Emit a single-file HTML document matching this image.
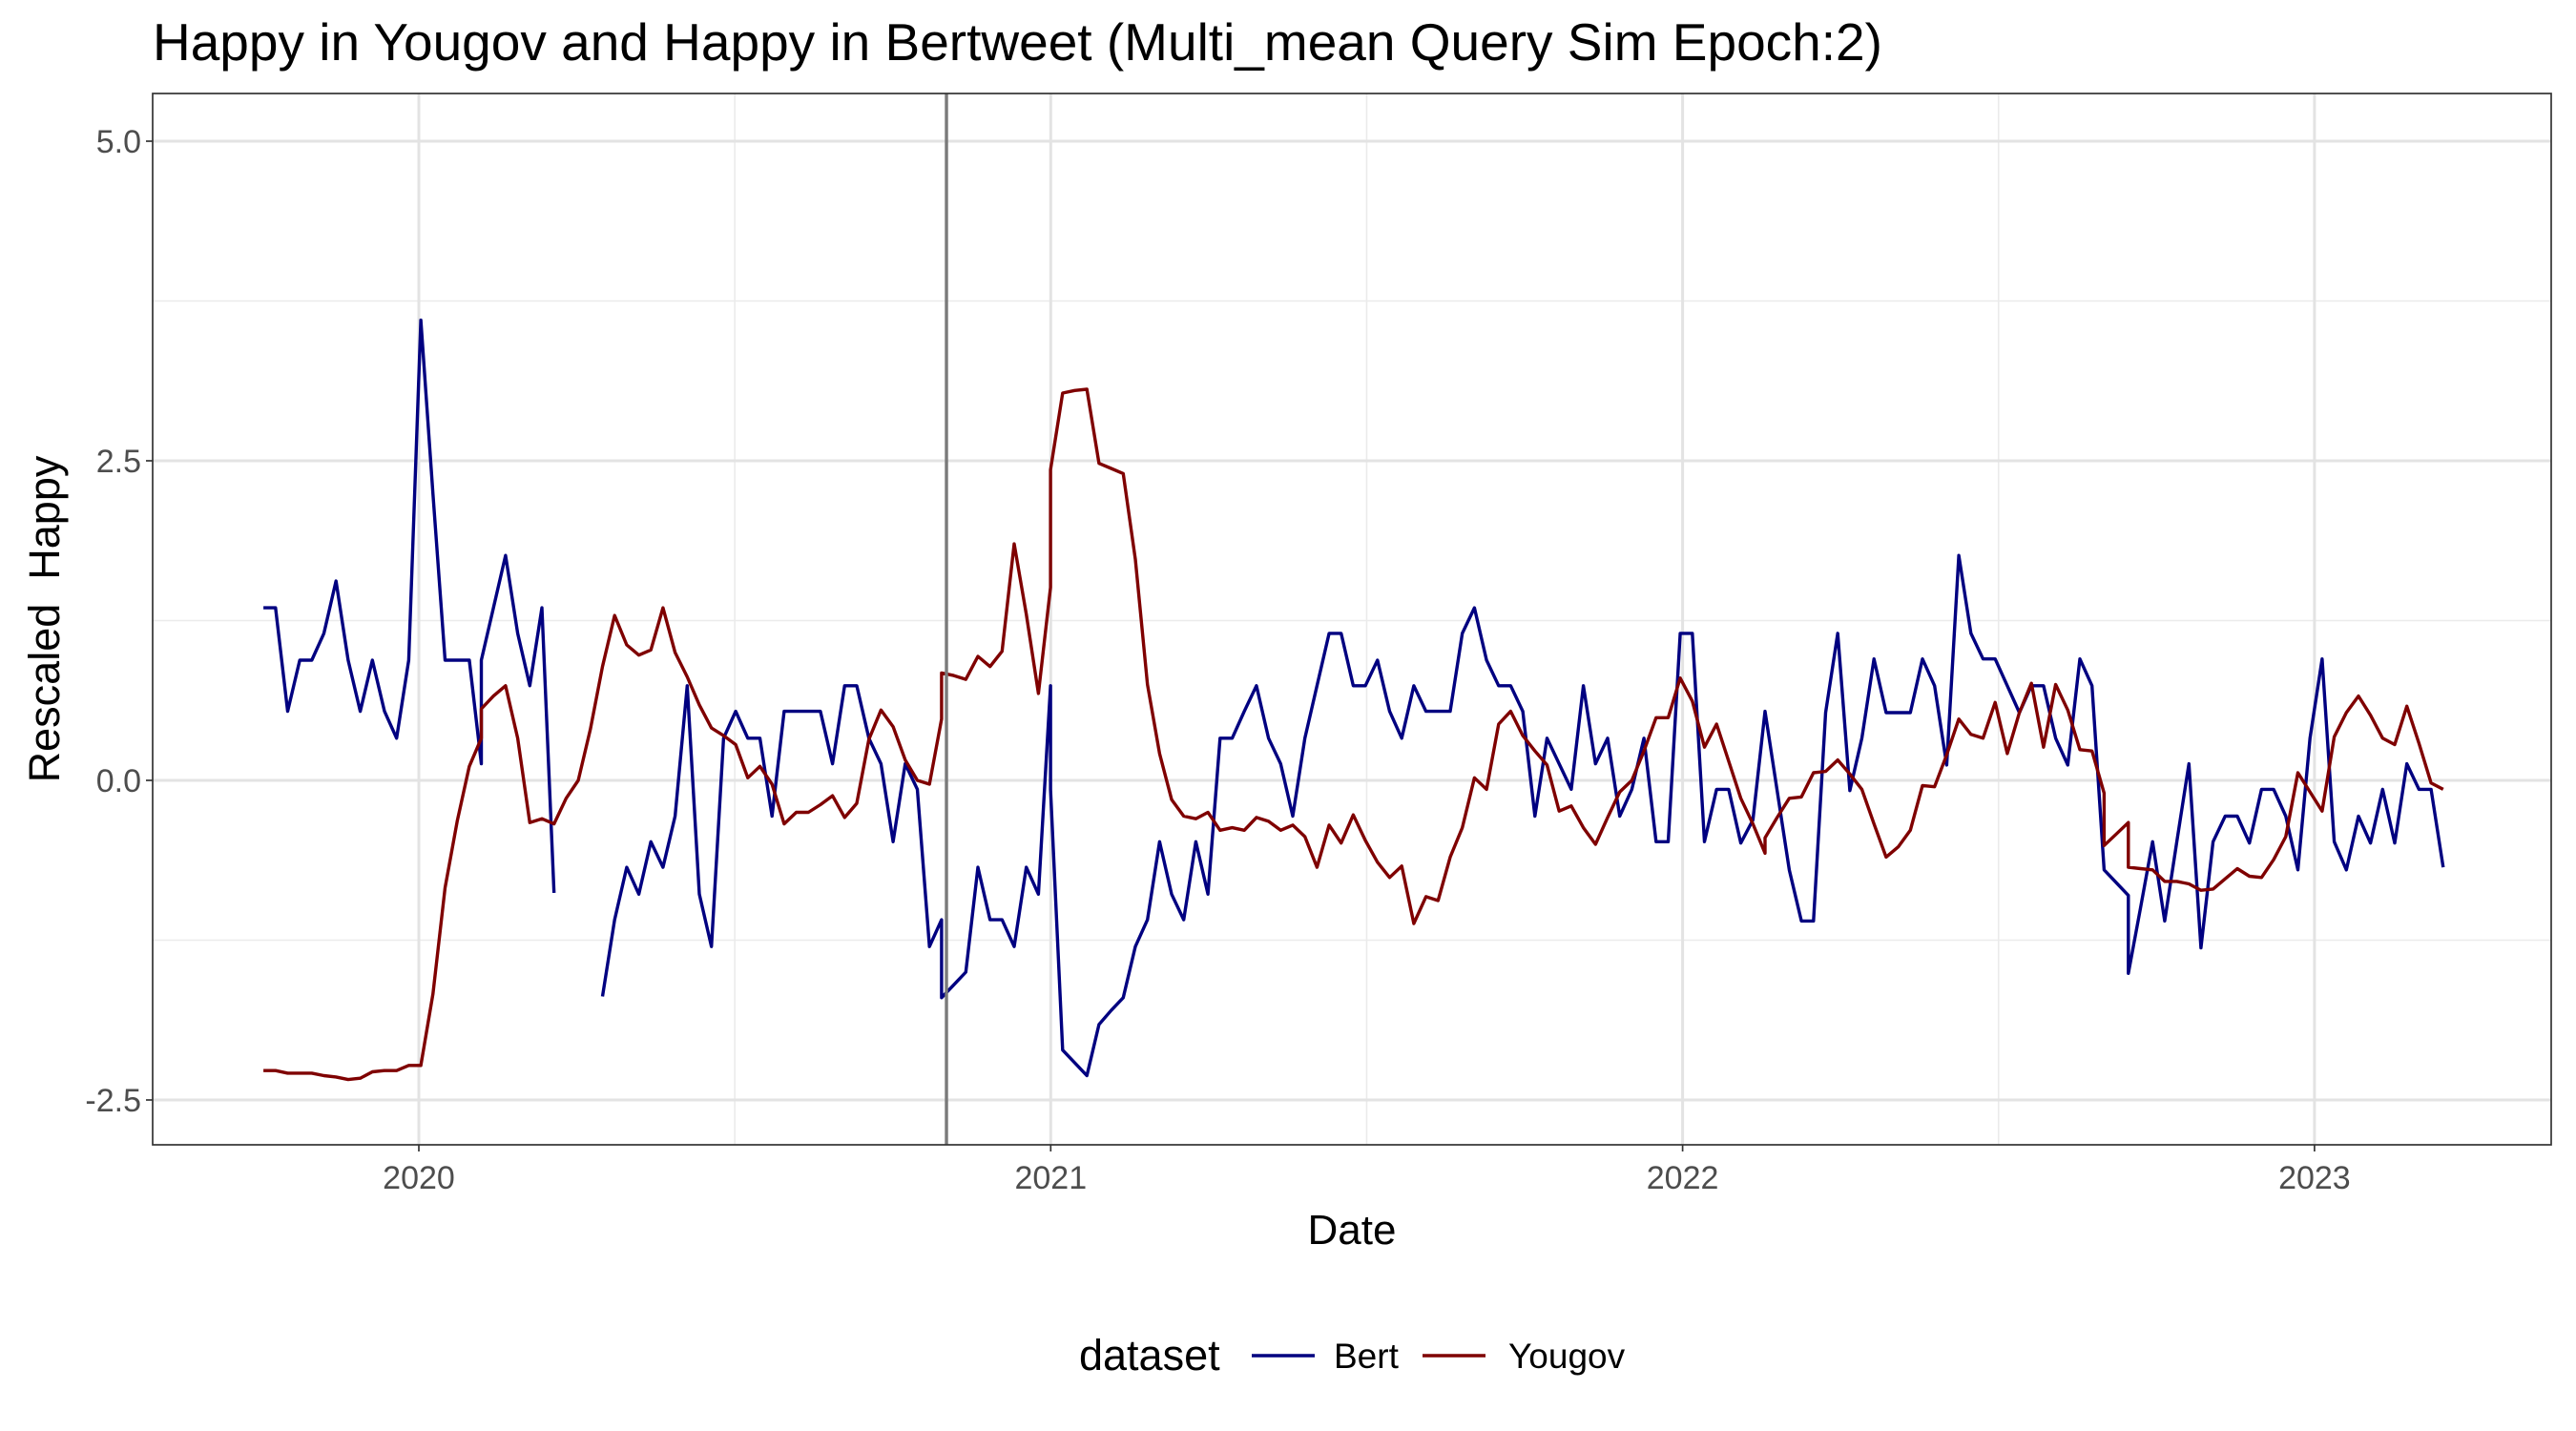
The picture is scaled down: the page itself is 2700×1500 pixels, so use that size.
<!DOCTYPE html>
<html><head><meta charset="utf-8"><style>
html,body{margin:0;padding:0;background:#fff;}
svg{display:block;font-family:"Liberation Sans",Arial,sans-serif;}
</style></head><body>
<svg id="chart" width="2700" height="1500" viewBox="0 0 2700 1500" xmlns="http://www.w3.org/2000/svg">
<rect width="2700" height="1500" fill="#fff"/>
<text x="160" y="63" font-size="55" fill="#000">Happy in Yougov and Happy in Bertweet (Multi_mean Query Sim Epoch:2)</text>
<g id="grid"></g>
<g id="series"></g>
<rect x="160" y="98" width="2514" height="1102" fill="none" stroke="#333" stroke-width="1.7"/>
<g id="axes"></g>
<text x="1417" y="1304" font-size="44" text-anchor="middle" fill="#000">Date</text>
<text transform="translate(62,649) rotate(-90)" font-size="45" text-anchor="middle" fill="#000" xml:space="preserve">Rescaled  Happy</text>
<g>
<text x="1131" y="1436" font-size="45" fill="#000">dataset</text>
<g>
<line x1="1312" y1="1421" x2="1378" y2="1421" stroke="#000080" stroke-width="3.5"/>
<text x="1398" y="1434" font-size="37" fill="#000">Bert</text>
</g>
<g>
<line x1="1491" y1="1421" x2="1557" y2="1421" stroke="#7f0000" stroke-width="3.5"/>
<text x="1581" y="1434" font-size="37" fill="#000">Yougov</text>
</g>
</g>
</svg>
<script>
const startYear = 2019.754;
const yTicks = [-2.5, 0, 2.5, 5];
const yTickLabels = ["-2.5", "0.0", "2.5", "5.0"];
const yMinor = [-1.25, 1.25, 3.75];
const xTicks = [2020, 2021, 2022, 2023];
const xTickLabels = ["2020", "2021", "2022", "2023"];
const xMinor = [2019.5, 2020.5, 2021.5, 2022.5];
const markerYear = 2020.835;

const bertWeek = [0,1,2,3,4,5,6,7,8,9,10,11,12,13,14,15,16,17,18,18,19,20,21,22,23,24,25,
28,29,30,31,32,33,34,35,36,37,38,39,40,41,42,43,44,45,46,47,48,49,50,51,52,53,54,55,56,56,57,58,59,60,61,
62,63,64,65,65,66,67,68,69,70,71,72,73,74,75,76,77,78,79,80,81,82,83,84,85,86,87,88,89,90,91,92,93,94,95,96,97,98,99,100,
101,102,103,104,105,106,107,108,109,110,111,112,113,114,115,116,117,118,119,120,
121,122,123,124,125,126,127,128,129,130,131,132,133,134,135,136,137,138,139,140,141,142,143,144,145,146,147,148,149,150,
151,152,153,154,154,155,156,157,158,159,160,161,162,163,164,165,166,167,168,169,170,171,172,173,174,175,176,177,178,179,180];
const bertVal = [1.35,1.35,0.54,0.94,0.94,1.15,1.56,0.94,0.54,0.94,0.54,0.33,0.94,3.60,2.24,0.94,0.94,0.94,0.13,0.94,1.35,1.76,1.15,0.74,1.35,-0.88,null,
-1.69,-1.09,-0.68,-0.89,-0.48,-0.68,-0.28,0.74,-0.89,-1.30,0.33,0.54,0.33,0.33,-0.28,0.54,0.54,0.54,0.54,0.13,0.74,0.74,0.33,0.13,-0.48,0.13,-0.07,-1.30,-1.09,-1.70,-1.60,-1.50,-0.68,-1.09,-1.09,
-1.30,-0.68,-0.89,0.74,-0.07,-2.11,-2.21,-2.31,-1.91,-1.80,-1.70,-1.30,-1.09,-0.48,-0.89,-1.09,-0.48,-0.89,0.33,0.33,0.54,0.74,0.33,0.13,-0.28,0.33,0.74,1.15,1.15,0.74,0.74,0.94,0.54,0.33,0.74,0.54,0.54,0.54,1.15,1.35,
0.94,0.74,0.74,0.54,-0.28,0.33,0.13,-0.07,0.74,0.13,0.33,-0.28,-0.07,0.33,-0.48,-0.48,1.15,1.15,-0.48,-0.07,
-0.07,-0.49,-0.31,0.54,-0.08,-0.70,-1.10,-1.10,0.53,1.15,-0.08,0.33,0.95,0.53,0.53,0.53,0.95,0.74,0.12,1.76,1.15,0.95,0.95,0.74,0.53,0.74,0.74,0.33,0.12,0.95,
0.74,-0.70,-0.80,-0.90,-1.51,-1.00,-0.48,-1.10,-0.48,0.13,-1.31,-0.48,-0.28,-0.28,-0.49,-0.07,-0.07,-0.28,-0.70,0.33,0.95,-0.48,-0.70,-0.28,-0.49,-0.07,-0.49,0.13,-0.07,-0.07,-0.68];

const yougovWeek = [0,1,2,3,4,5,6,7,8,9,10,11,12,13,14,15,16,17,18,18,19,20,21,22,23,24,25,26,27,28,29,30,31,32,33,34,35,36,37,38,39,40,
41,42,43,44,45,46,47,48,49,50,51,52,53,54,55,56,56,57,58,59,60,61,62,63,64,65,65,66,67,68,69,70,71,72,73,74,75,76,77,78,79,80,
81,82,83,84,85,86,87,88,89,90,91,92,93,94,95,96,97,98,99,100,101,102,103,104,105,106,107,108,109,110,111,112,113,114,115,116,117,118,119,120,
121,122,123,124,124,125,126,127,128,129,130,131,132,133,134,135,136,137,138,139,140,141,142,143,144,145,146,147,148,149,150,
151,152,152,153,154,154,155,156,157,158,159,160,161,162,163,164,165,166,167,168,169,170,171,172,173,174,175,176,177,178,179,180];
const yougovVal = [-2.27,-2.27,-2.29,-2.29,-2.29,-2.31,-2.32,-2.34,-2.33,-2.28,-2.27,-2.27,-2.23,-2.23,-1.67,-0.84,-0.32,0.11,0.33,0.56,0.66,0.74,0.33,-0.33,-0.30,-0.34,-0.14,0.00,0.40,0.89,1.29,1.06,0.98,1.02,1.35,1.00,0.81,0.59,0.41,0.35,0.28,0.02,
0.11,-0.03,-0.34,-0.25,-0.25,-0.19,-0.12,-0.29,-0.18,0.32,0.55,0.42,0.16,0.00,-0.03,0.48,0.84,0.82,0.79,0.97,0.89,1.01,1.85,1.30,0.68,1.51,2.43,3.03,3.05,3.06,2.48,2.44,2.40,1.73,0.75,0.21,-0.15,-0.28,-0.30,-0.25,-0.39,-0.37,
-0.39,-0.29,-0.32,-0.39,-0.35,-0.44,-0.68,-0.35,-0.49,-0.27,-0.47,-0.64,-0.76,-0.67,-1.12,-0.91,-0.94,-0.60,-0.37,0.02,-0.07,0.44,0.54,0.35,0.23,0.12,-0.24,-0.20,-0.37,-0.50,-0.29,-0.09,0.00,0.23,0.49,0.49,0.80,0.62,0.26,0.44,
0.15,-0.14,-0.34,-0.57,-0.45,-0.29,-0.14,-0.13,0.06,0.07,0.16,0.05,-0.07,-0.34,-0.60,-0.52,-0.39,-0.04,-0.05,0.20,0.48,0.36,0.33,0.61,0.21,0.53,0.76,0.26,0.75,0.55,0.24,
0.23,-0.10,-0.51,-0.42,-0.33,-0.68,-0.69,-0.70,-0.79,-0.79,-0.81,-0.86,-0.85,-0.77,-0.69,-0.75,-0.76,-0.62,-0.44,0.06,-0.09,-0.24,0.34,0.53,0.66,0.51,0.33,0.28,0.58,0.29,-0.02,-0.07];

const NS = "http://www.w3.org/2000/svg";
const PX0 = 160, PX1 = 2674, PY0 = 98, PY1 = 1200;
function xYear(y){ return 439 + (y - 2020) * 662.3; }
function xWeek(k){ return xYear(startYear + k * 7 / 365.25); }
function yVal(v){ return 818 - v * 134; }
function mk(tag, attrs, parent){
  const el = document.createElementNS(NS, tag);
  for (const k in attrs) el.setAttribute(k, attrs[k]);
  parent.appendChild(el);
  return el;
}
const grid = document.getElementById('grid');
const axes = document.getElementById('axes');
const series = document.getElementById('series');

yMinor.forEach(v => {
  const l = mk('line', {x1:PX0, x2:PX1, y1:yVal(v), y2:yVal(v), stroke:'#ebebeb', 'stroke-width':1.6}, grid);
  
  
});
xMinor.forEach(t => {
  const x = xYear(t); if (x < PX0 || x > PX1) return;
  const l = mk('line', {x1:x, x2:x, y1:PY0, y2:PY1, stroke:'#ebebeb', 'stroke-width':1.6}, grid);
  
  
});
yTicks.forEach((v, i) => {
  const y = yVal(v);
  const l = mk('line', {x1:PX0, x2:PX1, y1:y, y2:y, stroke:'#e3e3e3', 'stroke-width':3}, grid);
  
  
  const t = mk('line', {x1:PX0 - 7, x2:PX0, y1:y, y2:y, stroke:'#333', 'stroke-width':1.7}, axes);
  
  
  const tx = mk('text', {x:PX0 - 12, y:y + 12, 'font-size':34, 'text-anchor':'end', fill:'#4d4d4d'}, axes);
  tx.textContent = yTickLabels[i];
  
  
});
xTicks.forEach((yr, i) => {
  const x = xYear(yr);
  const l = mk('line', {x1:x, x2:x, y1:PY0, y2:PY1, stroke:'#e3e3e3', 'stroke-width':3}, grid);
  
  
  const t = mk('line', {x1:x, x2:x, y1:PY1, y2:PY1 + 7, stroke:'#333', 'stroke-width':1.7}, axes);
  
  
  const tx = mk('text', {x:x, y:PY1 + 46, 'font-size':34, 'text-anchor':'middle', fill:'#4d4d4d'}, axes);
  tx.textContent = xTickLabels[i];
  
  
});

function buildPath(weeks, vals){
  let d = '', pen = false;
  for (let i = 0; i < vals.length; i++){
    if (vals[i] === null){ pen = false; continue; }
    d += (pen ? 'L' : 'M') + xWeek(weeks[i]).toFixed(1) + ',' + yVal(vals[i]).toFixed(1);
    pen = true;
  }
  return d;
}
const bertLine = mk('path', {d:buildPath(bertWeek, bertVal), fill:'none', stroke:'#000080', 'stroke-width':3.4, 'stroke-linejoin':'round'}, series);


const ygLine = mk('path', {d:buildPath(yougovWeek, yougovVal), fill:'none', stroke:'#7f0000', 'stroke-width':3.4, 'stroke-linejoin':'round'}, series);


const mx = xYear(markerYear);
const vline = mk('line', {x1:mx, x2:mx, y1:PY0, y2:PY1, stroke:'#7a7a7a', 'stroke-width':3.4}, series);


</script>
</body></html>
